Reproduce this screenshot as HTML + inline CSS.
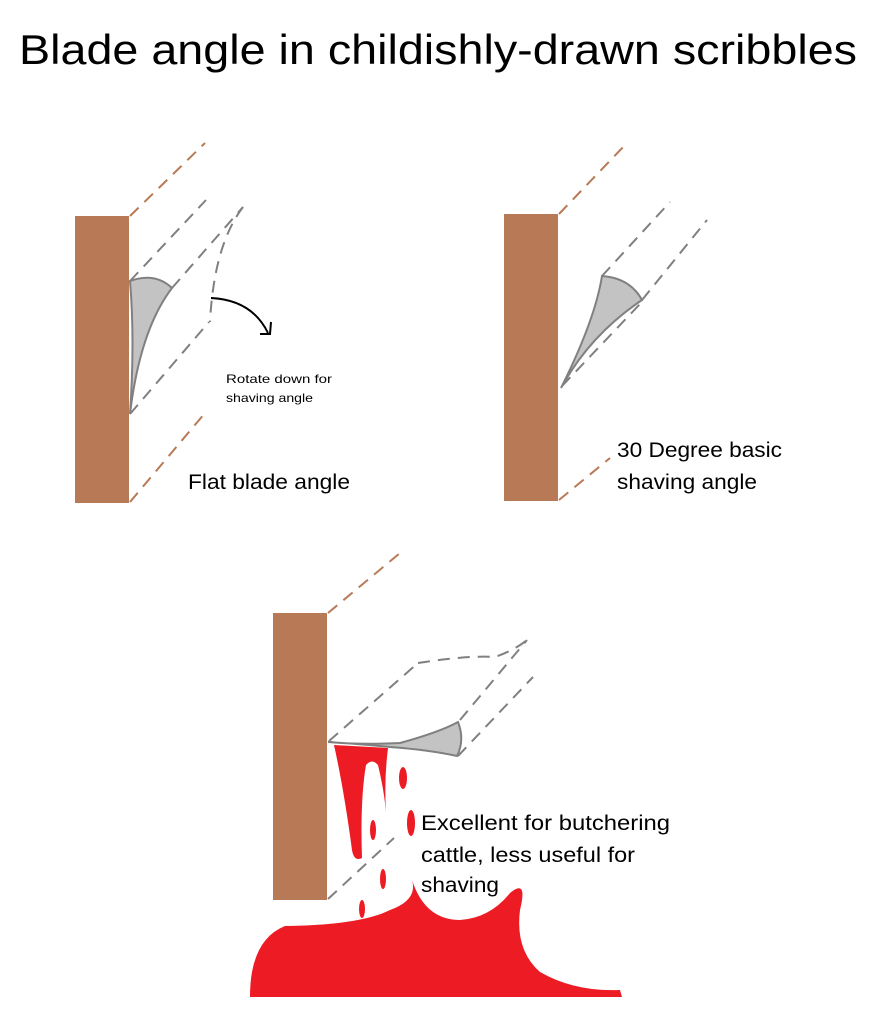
<!DOCTYPE html>
<html><head><meta charset="utf-8"><style>html,body{margin:0;padding:0;background:#fff}svg{display:block}</style></head><body>
<svg width="875" height="1019" viewBox="0 0 875 1019" xmlns="http://www.w3.org/2000/svg" font-family="Liberation Sans, sans-serif">
<rect width="875" height="1019" fill="#fff"/>
<text x="438" y="64" font-size="42" text-anchor="middle" textLength="838" lengthAdjust="spacingAndGlyphs" fill="#000">Blade angle in childishly-drawn scribbles</text>

<!-- Panel 1 -->
<rect x="75" y="216" width="54" height="287" fill="#b87a56"/>
<g stroke="#b87a56" stroke-width="2" stroke-dasharray="12,8" fill="none">
<line x1="130" y1="216" x2="205" y2="143"/>
<line x1="130" y1="502" x2="205" y2="413"/>
</g>
<g stroke="#808080" stroke-width="2" stroke-dasharray="12,8" fill="none">
<line x1="130" y1="281" x2="206" y2="200"/>
<line x1="172" y1="288" x2="243" y2="207"/>
<line x1="130" y1="414" x2="209" y2="322"/>
<path d="M243 207 Q214 245 210 322"/>
</g>
<path d="M130 281 Q155 272 172 288 Q140 330 130 414 Q135 340 130 281 Z" fill="#c3c3c3" stroke="#808080" stroke-width="2"/>
<path d="M211 298 Q252 300 268 333" stroke="#000" stroke-width="2" fill="none"/>
<path d="M260 334 L270 334 L271 322" stroke="#000" stroke-width="2" fill="none"/>
<text x="226" y="383" font-size="12" textLength="106" lengthAdjust="spacingAndGlyphs">Rotate down for</text>
<text x="226" y="402" font-size="12" textLength="87" lengthAdjust="spacingAndGlyphs">shaving angle</text>
<text x="188" y="489" font-size="21" textLength="162" lengthAdjust="spacingAndGlyphs">Flat blade angle</text>

<!-- Panel 2 -->
<rect x="504" y="214" width="54" height="287" fill="#b87a56"/>
<g stroke="#b87a56" stroke-width="2" stroke-dasharray="12,8" fill="none">
<line x1="559" y1="214" x2="625" y2="145"/>
<line x1="559" y1="500" x2="610" y2="458"/>
</g>
<g stroke="#808080" stroke-width="2" stroke-dasharray="12,8" fill="none">
<line x1="602" y1="276" x2="670" y2="202"/>
<line x1="642" y1="300" x2="707" y2="220"/>
<line x1="562" y1="386" x2="640" y2="304"/>
</g>
<path d="M561 388 Q595 320 602 276 Q630 278 642 300 Q590 335 561 388 Z" fill="#c3c3c3" stroke="#808080" stroke-width="2"/>
<text x="617" y="457" font-size="21" textLength="165" lengthAdjust="spacingAndGlyphs">30 Degree basic</text>
<text x="617" y="489" font-size="21" textLength="140" lengthAdjust="spacingAndGlyphs">shaving angle</text>

<!-- Panel 3 -->
<rect x="273" y="613" width="54" height="287" fill="#b87a56"/>
<line x1="328" y1="613" x2="400" y2="553" stroke="#b87a56" stroke-width="2" stroke-dasharray="12,8"/>
<g stroke="#808080" stroke-width="2" stroke-dasharray="12,8" fill="none">
<line x1="329" y1="741" x2="418" y2="663"/>
<path d="M418 663 Q470 655 495 657 Q515 650 527 640"/>
<line x1="460" y1="720" x2="527" y2="640"/>
<line x1="458" y1="756" x2="533" y2="677"/>
<line x1="328" y1="899" x2="394" y2="838"/>
</g>
<!-- blood -->
<g fill="#ed1c24">
<path d="M334 745 L388 748 Q384 780 386 812 Q384 790 378 765 Q372 758 366 765 Q360 800 362 858 Q354 862 352 850 Q344 790 334 745 Z"/>
<ellipse cx="403" cy="778" rx="4" ry="11"/>
<ellipse cx="411" cy="823" rx="4" ry="13"/>
<ellipse cx="373" cy="830" rx="3" ry="10"/>
<ellipse cx="383" cy="879" rx="3" ry="10"/>
<ellipse cx="362" cy="909" rx="3" ry="9"/>
<path d="M250 997 Q250 940 285 926 Q360 925 390 910 Q418 900 412 880 Q425 920 460 920 Q490 918 510 893 Q528 878 520 910 Q515 950 540 972 Q575 992 620 990 L622 997 Z"/>
</g>
<path d="M328 742 Q360 745 400 743 Q440 732 458 722 Q465 740 457 756 Q430 750 390 747 Q360 744 328 742 Z" fill="#c3c3c3" stroke="#808080" stroke-width="2"/>
<text x="421" y="830" font-size="21" textLength="249" lengthAdjust="spacingAndGlyphs">Excellent for butchering</text>
<text x="421" y="862" font-size="21" textLength="214" lengthAdjust="spacingAndGlyphs">cattle, less useful for</text>
<text x="421" y="892" font-size="21" textLength="78" lengthAdjust="spacingAndGlyphs">shaving</text>
</svg>
</body></html>
